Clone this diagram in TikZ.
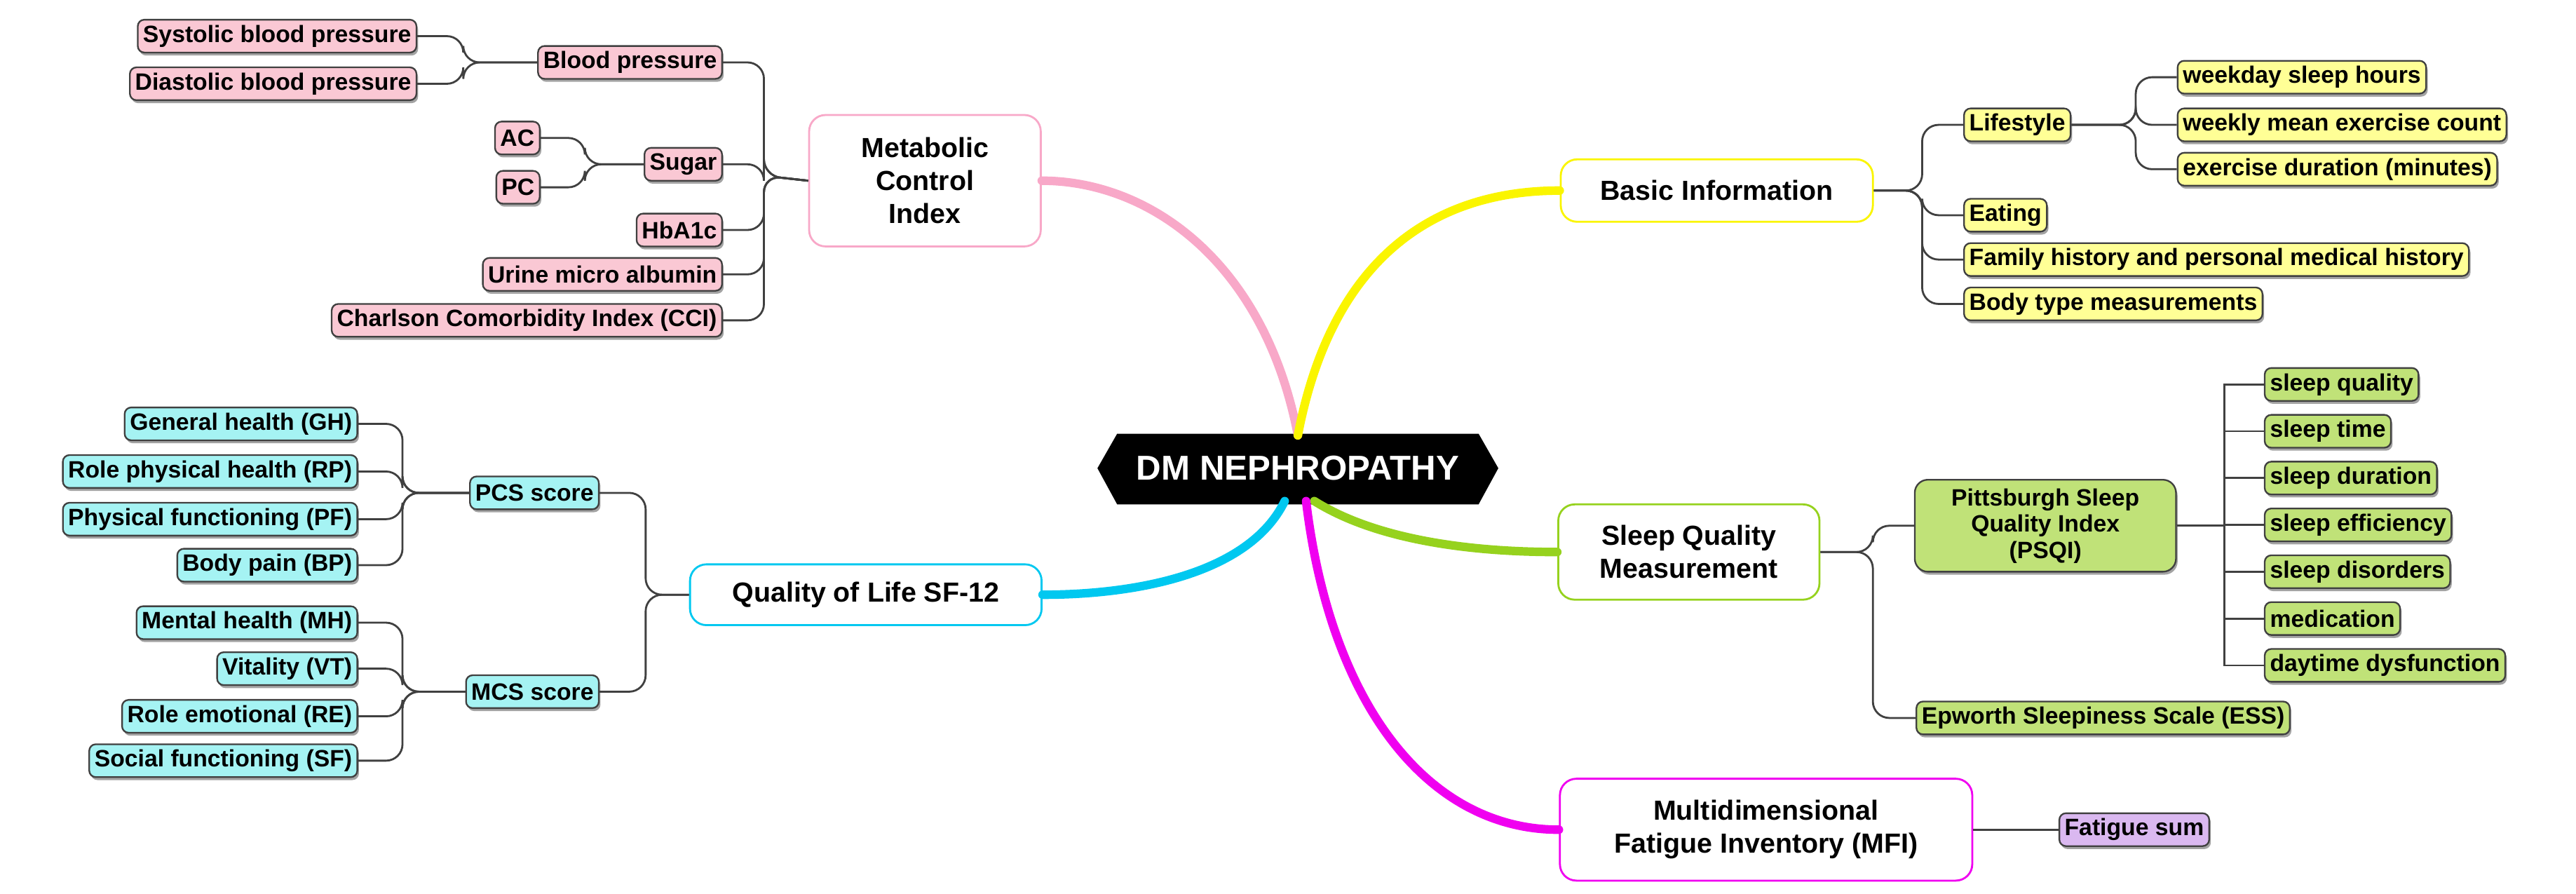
\documentclass[tikz,border=0pt]{standalone}
\usepackage{fontspec}
\setmainfont{Liberation Sans}
\usetikzlibrary{shadows}
\definecolor{pkf}{RGB}{250,200,212}
\definecolor{ylf}{RGB}{255,255,150}
\definecolor{grf}{RGB}{192,226,120}
\definecolor{cyf}{RGB}{165,243,243}
\definecolor{puf}{RGB}{218,184,240}
\definecolor{pkl}{RGB}{248,168,200}
\definecolor{yll}{RGB}{250,245,0}
\definecolor{grl}{RGB}{150,210,30}
\definecolor{cyl}{RGB}{0,200,240}
\definecolor{mgl}{RGB}{240,0,240}
\begin{document}
\begin{tikzpicture}[x=0.5pt,y=-0.5pt,
 leaf/.style={draw=black!75,line width=0.5pt,rounded corners=2pt,inner sep=1.6pt,minimum height=10pt,
   font=\fontsize{7.2}{8}\selectfont\bfseries,drop shadow={shadow xshift=0.5pt,shadow yshift=-0.9pt,fill=black!45,opacity=0.8}},
 pk/.style={leaf,fill=pkf},
 yl/.style={leaf,fill=ylf},
 gr/.style={leaf,fill=grf},
 cy/.style={leaf,fill=cyf},
 pu/.style={leaf,fill=puf},
 main/.style={draw,fill=white,line width=0.6pt,rounded corners=5pt,align=center,
   font=\fontsize{8.4}{10}\selectfont\bfseries},
 br/.style={draw=black!75,line width=0.6pt,rounded corners=5pt},
 bl/.style={line width=2.6pt,line cap=round}]
\useasboundingbox (0,0) rectangle (1568,544);
% center
\fill (668,285) -- (680,264) -- (900,264) -- (912,285) -- (900,307) -- (680,307) -- cycle;
\node[text=white,font=\fontsize{10.5}{12}\selectfont\bfseries] (c) at (790,285) {DM NEPHROPATHY};
% main nodes
\node[main,draw=pkl,minimum width=70.5pt,minimum height=40pt] (met) at (563,110) {Metabolic\\Control\\Index};
\node[main,draw=yll,minimum width=95pt,minimum height=19pt] (bas) at (1045,116) {Basic Information};
\node[main,draw=grl,minimum width=79.5pt,minimum height=29pt] (slp) at (1028,336) {Sleep Quality\\Measurement};
\node[main,draw=mgl,minimum width=125.5pt,minimum height=31pt] (mfi) at (1075,505) {Multidimensional\\Fatigue Inventory (MFI)};
\node[main,draw=cyl,minimum width=107pt,minimum height=18.5pt] (qol) at (527,362) {Quality of Life SF-12};
% main branches
\draw[bl,pkl] (790,265) .. controls (770,160) and (700,110) .. (met.east);
\draw[bl,yll] (790,265) .. controls (810,160) and (870,116) .. (bas.west);
\draw[bl,grl] (800,305) .. controls (840,330) and (900,336) .. (slp.west);
\draw[bl,mgl] (795,305) .. controls (810,430) and (870,505) .. (mfi.west);
\draw[bl,cyl] (782,305) .. controls (760,350) and (690,362) .. (qol.east);
% metabolic
\node[pk,anchor=east] (bp) at (440,38) {Blood pressure};
\node[pk,anchor=east] (sys) at (254,22) {Systolic blood pressure};
\node[pk,anchor=east] (dia) at (254,51) {Diastolic blood pressure};
\node[pk,anchor=east] (sug) at (440,100) {Sugar};
\node[pk,anchor=east] (ac) at (329,84) {AC};
\node[pk,anchor=east] (pc) at (329,114) {PC};
\node[pk,anchor=east] (hb) at (440,140) {HbA1c};
\node[pk,anchor=east] (ur) at (440,167) {Urine micro albumin};
\node[pk,anchor=east] (cci) at (440,195) {Charlson Comorbidity Index (CCI)};
\foreach \n in {bp,sug,hb,ur,cci} \draw[br] (met.west) -- (465,107) |- (\n.east);
\foreach \n in {sys,dia} \draw[br] (bp.west) -- (282,38) |- (\n.east);
\foreach \n in {ac,pc} \draw[br] (sug.west) -- (356,100) |- (\n.east);
% basic
\node[yl,anchor=west] (life) at (1195,76) {Lifestyle};
\node[yl,anchor=west] (eat) at (1195,131) {Eating};
\node[yl,anchor=west] (fam) at (1195,158) {Family history and personal medical history};
\node[yl,anchor=west] (body) at (1195,185) {Body type measurements};
\node[yl,anchor=west] (wsh) at (1325,47) {weekday sleep hours};
\node[yl,anchor=west] (wme) at (1325,76) {weekly mean exercise count};
\node[yl,anchor=west] (edm) at (1325,103) {exercise duration (minutes)};
\foreach \n in {life,eat,fam,body} \draw[br] (bas.east) -- (1170,116) |- (\n.west);
\foreach \n in {wsh,wme,edm} \draw[br] (life.east) -- (1300,76) |- (\n.west);
% sleep
\node[gr,align=center,minimum width=79.5pt,minimum height=28pt,rounded corners=4pt] (psqi) at (1245,320) {Pittsburgh Sleep\\Quality Index\\(PSQI)};
\node[gr,anchor=west] (ess) at (1166,437) {Epworth Sleepiness Scale (ESS)};
\foreach \n in {psqi,ess} \draw[br] (slp.east) -- (1140,336) |- (\n.west);
\foreach \t [count=\i] in {sleep quality,sleep time,sleep duration,sleep efficiency,sleep disorders,medication,daytime dysfunction}{
  \pgfmathsetmacro{\yy}{234+(\i-1)*28.5}
  \node[gr,anchor=west] (p\i) at (1378,\yy) {\t};
  \draw[draw=black!75,line width=0.6pt] (psqi.east) -- (1354,320) |- (p\i.west);
}
% MFI
\node[pu,anchor=west] (fat) at (1253,505) {Fatigue sum};
\draw[br] (mfi.east) -- (fat.west);
% QoL
\node[cy,anchor=east] (pcs) at (365,300) {PCS score};
\node[cy,anchor=east] (mcs) at (365,421) {MCS score};
\foreach \n in {pcs,mcs} \draw[br] (qol.west) -- (393,362) |- (\n.east);
\node[cy,anchor=east] (gh) at (218,258) {General health (GH)};
\node[cy,anchor=east] (rp) at (218,287) {Role physical health (RP)};
\node[cy,anchor=east] (pf) at (218,316) {Physical functioning (PF)};
\node[cy,anchor=east] (bpn) at (218,344) {Body pain (BP)};
\node[cy,anchor=east] (mh) at (218,379) {Mental health (MH)};
\node[cy,anchor=east] (vt) at (218,407) {Vitality (VT)};
\node[cy,anchor=east] (re) at (218,436) {Role emotional (RE)};
\node[cy,anchor=east] (sf) at (218,463) {Social functioning (SF)};
\foreach \n in {gh,rp,pf,bpn} \draw[br] (pcs.west) -- (245,300) |- (\n.east);
\foreach \n in {mh,vt,re,sf} \draw[br] (mcs.west) -- (245,421) |- (\n.east);
\end{tikzpicture}
\end{document}
